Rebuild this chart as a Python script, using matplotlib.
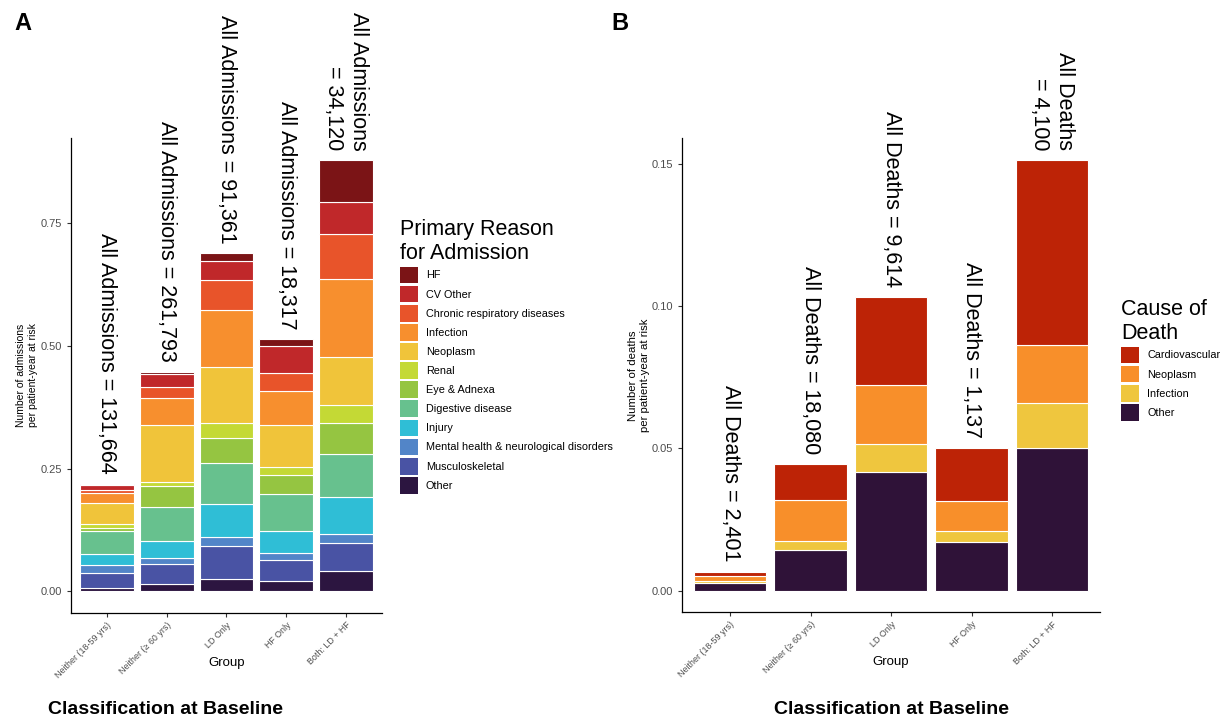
import numpy as np
import matplotlib
matplotlib.use("Agg")
import matplotlib.pyplot as plt
from matplotlib.patches import Patch

plt.rcParams['font.family'] = ['Liberation Sans', 'DejaVu Sans']

# Groups on the x axis
groups = ["Neither (18-59 yrs)", "Neither (\u2265 60 yrs)", "LD Only", "HF Only", "Both: LD + HF"]

# Panel A: admissions per patient-year at risk, one list per reason
adm_other = [0.006, 0.014, 0.024, 0.020, 0.041]
adm_musculo = [0.031, 0.041, 0.068, 0.043, 0.057]
adm_mental = [0.016, 0.013, 0.019, 0.014, 0.018]
adm_injury = [0.022, 0.035, 0.066, 0.046, 0.076]
adm_digestive = [0.047, 0.069, 0.085, 0.076, 0.087]
adm_eye = [0.007, 0.043, 0.051, 0.038, 0.063]
adm_renal = [0.008, 0.008, 0.029, 0.016, 0.038]
adm_neoplasm = [0.042, 0.115, 0.114, 0.085, 0.097]
adm_infection = [0.021, 0.055, 0.117, 0.070, 0.159]
adm_chronic = [0.007, 0.024, 0.062, 0.037, 0.091]
adm_cv_other = [0.010, 0.025, 0.038, 0.054, 0.066]
adm_hf = [0.002, 0.005, 0.016, 0.015, 0.085]
adm_totals = ["All Admissions = 131,664", "All Admissions = 261,793",
              "All Admissions = 91,361", "All Admissions = 18,317",
              "All Admissions\n= 34,120"]

# Panel B: deaths per patient-year at risk, one list per cause
death_other = [0.0028, 0.0143, 0.0418, 0.0171, 0.0502]
death_infection = [0.0004, 0.0032, 0.0097, 0.0039, 0.0156]
death_neoplasm = [0.0020, 0.0142, 0.0206, 0.0105, 0.0204]
death_cv = [0.0015, 0.0128, 0.0310, 0.0186, 0.0651]
death_totals = ["All Deaths = 2,401", "All Deaths = 18,080", "All Deaths = 9,614",
                "All Deaths = 1,137", "All Deaths\n= 4,100"]

# stacking order: bottom -> top
adm_series = [
    ("Other", adm_other, "#2C1540"),
    ("Musculoskeletal", adm_musculo, "#4953A4"),
    ("Mental health & neurological disorders", adm_mental, "#5285C8"),
    ("Injury", adm_injury, "#2FBED6"),
    ("Digestive disease", adm_digestive, "#67C18E"),
    ("Eye & Adnexa", adm_eye, "#95C541"),
    ("Renal", adm_renal, "#C4D935"),
    ("Neoplasm", adm_neoplasm, "#F0C43A"),
    ("Infection", adm_infection, "#F78F2E"),
    ("Chronic respiratory diseases", adm_chronic, "#E8542A"),
    ("CV Other", adm_cv_other, "#C0282A"),
    ("HF", adm_hf, "#7B1416"),
]
death_series = [
    ("Other", death_other, "#2F1238"),
    ("Infection", death_infection, "#EFC63E"),
    ("Neoplasm", death_neoplasm, "#F88F2A"),
    ("Cardiovascular", death_cv, "#BD2306"),
]


def stacked(ax, series, labels):
    x = np.arange(len(groups))
    bottom = np.zeros(len(groups))
    for name, vals, col in series:
        ax.bar(x, vals, 0.9, bottom=bottom, color=col, edgecolor="white", linewidth=0.8)
        bottom += np.array(vals)
    for i, txt in enumerate(labels):
        ax.annotate(txt, xy=(x[i], bottom[i]), xytext=(0, 7), textcoords="offset points",
                    rotation=270, ha="center", va="bottom", fontsize=15.5,
                    multialignment="right", color="black")
    ax.set_xlim(-0.6, len(groups) - 0.4)
    ax.set_xticks(x)
    ax.set_xticklabels(groups, rotation=45, ha="right", rotation_mode="anchor")
    for s in ["top", "right"]:
        ax.spines[s].set_visible(False)
    for s in ["left", "bottom"]:
        ax.spines[s].set_linewidth(0.9)
    ax.tick_params(length=3, color="#333333", labelcolor="#4D4D4D", labelsize=8)
    ax.tick_params(axis="x", labelsize=6.4, pad=2.5)
    ax.set_xlabel("Group", fontsize=9.5, va="top")
    ax.xaxis.set_label_coords(0.5, -(657 - 613) / 475)
    return bottom


fig = plt.figure(figsize=(12.24, 7.21), dpi=100)

# Panel A
ax_a = fig.add_axes([0.058, 0.150, 0.254, 0.659])
stacked(ax_a, adm_series, adm_totals)
ax_a.set_ylim(-0.044, 0.924)
ax_a.set_yticks([0, 0.25, 0.5, 0.75])
ax_a.set_yticklabels(["0.00", "0.25", "0.50", "0.75"])
ax_a.set_ylabel("Number of admissions\nper patient-year at risk", fontsize=7.5, labelpad=2)

handles = [Patch(facecolor=c, edgecolor="none") for _, _, c in adm_series[::-1]]
names = [n for n, _, _ in adm_series[::-1]]
ax_a.legend(handles, names, loc="upper left", bbox_to_anchor=(400 / 1224, 1 - 219 / 721),
            bbox_transform=fig.transFigure, frameon=False, fontsize=7.8,
            title="Primary Reason\nfor Admission", title_fontsize=15.5, alignment="left",
            handlelength=1.7, handleheight=2.0, labelspacing=0.22, handletextpad=0.7,
            borderpad=0, borderaxespad=0)

# Panel B
ax_b = fig.add_axes([0.557, 0.151, 0.342, 0.657])
stacked(ax_b, death_series, death_totals)
ax_b.set_ylim(-0.00757, 0.1589)
ax_b.set_yticks([0, 0.05, 0.10, 0.15])
ax_b.set_yticklabels(["0.00", "0.05", "0.10", "0.15"])
ax_b.set_ylabel("Number of deaths\nper patient-year at risk", fontsize=8.2, labelpad=1)

handles = [Patch(facecolor=c, edgecolor="none") for _, _, c in death_series[::-1]]
names = [n for n, _, _ in death_series[::-1]]
ax_b.legend(handles, names, loc="upper left", bbox_to_anchor=(1121 / 1224, 1 - 299 / 721),
            bbox_transform=fig.transFigure, frameon=False, fontsize=7.8,
            title="Cause of\nDeath", title_fontsize=15.5, alignment="left",
            handlelength=1.7, handleheight=2.0, labelspacing=0.22, handletextpad=0.7,
            borderpad=0, borderaxespad=0)

# panel tags and captions
fig.text(14 / 1224, 1 - 24 / 721, "A", fontsize=17, fontweight="bold", va="center")
fig.text(611 / 1224, 1 - 24 / 721, "B", fontsize=17, fontweight="bold", va="center")
fig.text(165 / 1224, 1 - 709 / 721, "Classification at Baseline", fontsize=14,
         fontweight="bold", ha="center", va="center")
fig.text(891 / 1224, 1 - 709 / 721, "Classification at Baseline", fontsize=14,
         fontweight="bold", ha="center", va="center")

fig.savefig("out.png", dpi=100, facecolor="white")
